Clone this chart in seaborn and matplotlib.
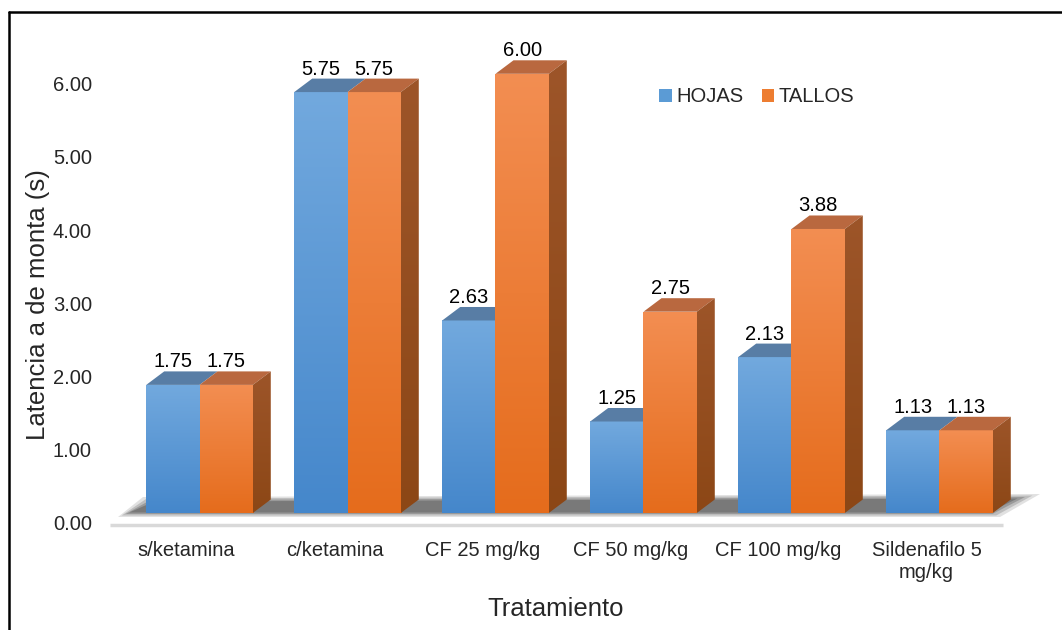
import numpy as np
import pandas as pd
import matplotlib.pyplot as plt
import seaborn as sns
from matplotlib.colors import LinearSegmentedColormap
from matplotlib.patches import Polygon, Patch
from matplotlib.lines import Line2D

# datos del gráfico
tratamientos = ['s/ketamina', 'c/ketamina', 'CF 25 mg/kg', 'CF 50 mg/kg',
                'CF 100 mg/kg', 'Sildenafilo 5\nmg/kg']
hojas = [1.75, 5.75, 2.63, 1.25, 2.13, 1.13]
tallos = [1.75, 5.75, 6.00, 2.75, 3.88, 1.13]
series = ['HOJAS', 'TALLOS']
y_ticks = [0, 1, 2, 3, 4, 5, 6]

df = pd.DataFrame({
    'Tratamiento': tratamientos * 2,
    'valor': hojas + tallos,
    'serie': [series[0]] * len(hojas) + [series[1]] * len(tallos),
})

sns.set_theme(style='white')
plt.rcParams['font.family'] = ['Liberation Sans', 'DejaVu Sans']

W, H = 1062, 630
fig = plt.figure(figsize=(W / 100, H / 100), dpi=100)
# caja de ejes en pixeles
L, R, T, B = 110, 1040, 30, 540
ax = fig.add_axes([L / W, 1 - B / H, (R - L) / W, (B - T) / H])

colores = ['#5b9bd5', '#ed7d31']
sns.barplot(data=df, x='Tratamiento', y='valor', hue='serie', palette=colores,
            width=0.72, saturation=1, ax=ax, legend=False, zorder=3,
            linewidth=0)

# escala: 148 px por categoria, 73.2 px por unidad
x0_px, y0_px, sx, sy = 199.5, 513, 148.0, 73.2
xlim = ((L - x0_px) / sx, (R - x0_px) / sx)
ylim = ((y0_px - B) / sy, (y0_px - T) / sy)

def d(px, py):
    return ((px - x0_px) / sx, (y0_px - py) / sy)

dx, dy = 18 / sx, 13.5 / sy

grad_front = [LinearSegmentedColormap.from_list('b', ['#4587cb', '#72a9de']),
              LinearSegmentedColormap.from_list('o', ['#e56c1c', '#f38e52'])]
top_col = ['#587da5', '#b9683f']
side_cmap = LinearSegmentedColormap.from_list('s', ['#8c4716', '#9d5529'])
gradient = np.linspace(0, 1, 256).reshape(-1, 1)

for k, cont in enumerate(ax.containers):
    z = 3 + k
    for bar in cont:
        x0 = bar.get_x()
        w = bar.get_width()
        h = bar.get_height()
        bar.set_zorder(z)
        im = ax.imshow(gradient, extent=[x0, x0 + w, 0, h], origin='lower',
                       aspect='auto', cmap=grad_front[k], zorder=z + 0.05)
        im.set_clip_path(bar)
        ax.add_patch(Polygon([(x0, h), (x0 + w, h), (x0 + w + dx, h + dy),
                              (x0 + dx, h + dy)], closed=True,
                             facecolor=top_col[k], edgecolor='none',
                             zorder=z + 0.1))
        if k == 1:
            side = Polygon([(x0 + w, 0), (x0 + w + dx, dy), (x0 + w + dx, h + dy),
                            (x0 + w, h)], closed=True, facecolor='none',
                           edgecolor='none', zorder=z + 0.1)
            ax.add_patch(side)
            ims = ax.imshow(gradient, extent=[x0 + w, x0 + w + dx, 0, h + dy],
                            origin='lower', aspect='auto', cmap=side_cmap,
                            zorder=z + 0.1)
            ims.set_clip_path(side)
        ax.text(x0 + w / 2, h + dy, f'{h:.2f}', ha='center', va='bottom',
                fontsize=14.5, color='black', zorder=10)

# piso con sombra
for i, a in enumerate([0.14, 0.2, 0.25, 0.3]):
    ins = i * 2.5
    pts = [(118 + ins * 1.5, 517 - ins * 0.6), (1000 - ins * 1.5, 517 - ins * 0.6),
           (1040 - ins * 3, 494 + ins * 0.6), (143 + ins * 1.5, 497 + ins * 0.6)]
    ax.add_patch(Polygon([d(*p) for p in pts], closed=True, facecolor='#303030',
                         edgecolor='none', alpha=a, zorder=1))
p1, p2 = d(110, 525), d(1003, 525)
ax.plot([p1[0], p2[0]], [p1[1], p2[1]], color='#d9d9d9', lw=2.5, zorder=1,
        solid_capstyle='butt')

ax.set_xlim(xlim)
ax.set_ylim(ylim)

# ejes
off = 10 / sy
ax.set_yticks([t - off for t in y_ticks])
ax.set_yticklabels([f'{t:.2f}' for t in y_ticks], fontsize=14.5)
ax.set_xticks([i - 13 / sx for i in range(len(tratamientos))])
ax.set_xticklabels(tratamientos, fontsize=14.5)
ax.tick_params(axis='y', length=0, pad=13)
ax.tick_params(axis='x', length=0, pad=1)
for s in ax.spines.values():
    s.set_visible(False)

ax.set_xlabel('Tratamiento', fontsize=18.5)
ax.xaxis.set_label_coords((556 - L) / (R - L), (B - 597) / (B - T))
ax.set_ylabel('Latencia a de monta (s)', fontsize=18.5)
ax.yaxis.set_label_coords((50 - L) / (R - L), (B - 305) / (B - T))

# leyenda
handles = [Patch(facecolor=c, edgecolor='none') for c in colores]
fig.legend(handles, series, loc='center', ncol=2, frameon=False, fontsize=14.5,
           bbox_to_anchor=(757 / W, 1 - 97 / H), handlelength=0.6,
           handleheight=0.6, handletextpad=0.25, columnspacing=0.9)

# marco
fig.add_artist(Line2D([8.5 / W, 8.5 / W], [0, 1 - 12 / H], color='black', lw=1.8))
fig.add_artist(Line2D([8.5 / W, 1], [1 - 12 / H, 1 - 12 / H], color='black', lw=1.8))

fig.savefig('out.png', dpi=100)
